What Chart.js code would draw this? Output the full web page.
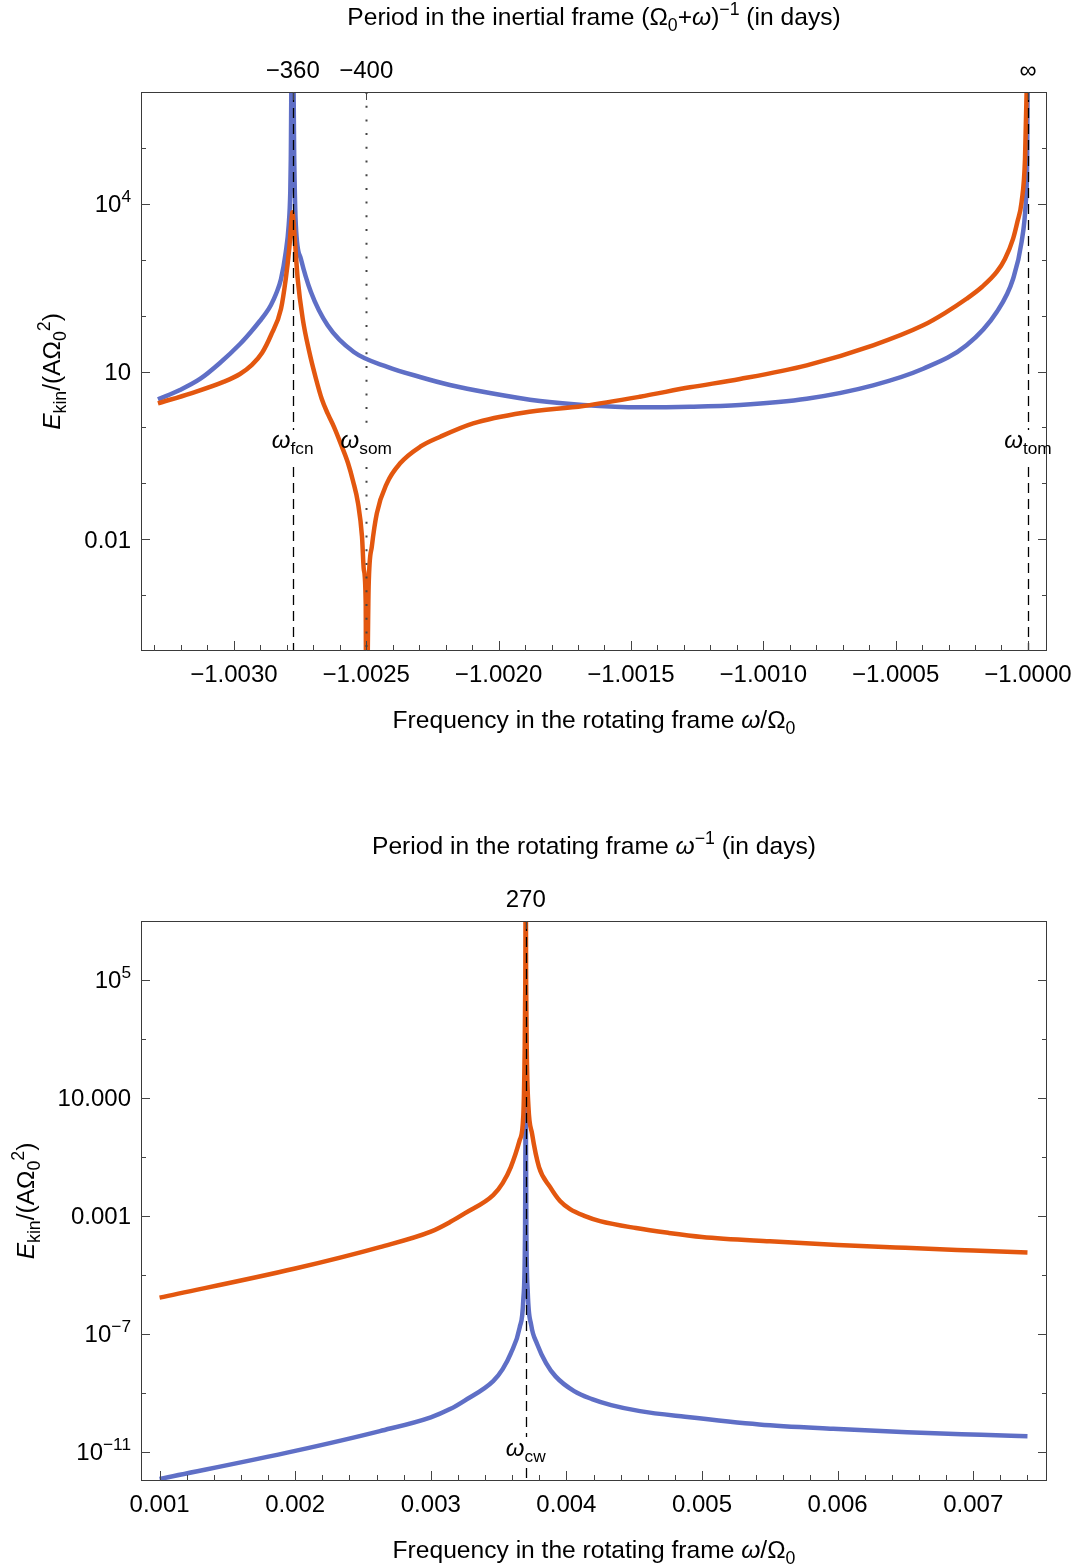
<!DOCTYPE html>
<html>
<head>
<meta charset="utf-8">
<script src="https://cdn.jsdelivr.net/npm/chart.js@4.4.1/dist/chart.umd.min.js"></script>
<style>
  html, body { margin: 0; padding: 0; background: #fff; }
  body { width: 1080px; height: 1567px; position: relative; overflow: hidden; }
  canvas { position: absolute; left: 0; }
  #topChart { top: 0; }
  #bottomChart { top: 783px; }
</style>
</head>
<body>
<canvas id="topChart" width="1080" height="783"></canvas>
<canvas id="bottomChart" width="1080" height="784"></canvas>
<script>
// ---- top panel: period in the inertial frame ----
const topXRange = [-1.003351, -0.999928];
const topYRange = [1e-4, 1e6];

const topBlueX = [-1.003287, -1.003204, -1.003128, -1.003053, -1.002977, -1.002936, -1.002902, -1.002879,
  -1.00286, -1.002841, -1.002822, -1.002804, -1.002793, -1.002787, -1.002785, -1.002781,
  -1.002777, -1.002772, -1.002766, -1.002747, -1.002709, -1.002646, -1.002547, -1.002418, -1.002297,
  -1.002184, -1.002033, -1.001844, -1.001681, -1.001466, -1.001277, -1.001088, -1.000836, -1.000585,
  -1.000396, -1.000232, -1.000118, -1.000056, -1.000024, -1.000008, -1.000003, -1.0000005];
const topBlueY = [3.18, 4.67, 7.35, 14.2, 31.0, 50.9, 80.0, 111,
  155, 243, 452, 1370, 4120, 16300, 64100, 1e7,
  1e7, 64100, 4120, 1040, 264, 67, 22.3, 12.0, 7.98,
  5.73, 4.12, 2.96, 2.52, 2.29, 2.34, 2.52, 3.26, 5.66,
  11.2, 29.4, 116, 457, 2070, 10800, 63000, 1e7];

const topOrangeX = [-1.003287, -1.003162, -1.003037, -1.002977, -1.002932, -1.002894, -1.00286, -1.002822,
  -1.002804, -1.002791, -1.002782, -1.002779, -1.002772, -1.002759, -1.00274, -1.002715, -1.00269,
  -1.002668, -1.002645, -1.002622, -1.002596, -1.002569, -1.00255, -1.002531, -1.002516, -1.002509,
  -1.002502, -1.0025, -1.002491, -1.002479, -1.00246, -1.002422, -1.002372, -1.002296, -1.00222,
  -1.002096, -1.001907, -1.00168, -1.001466, -1.001277, -1.001088, -1.000836, -1.000585, -1.000396,
  -1.000314, -1.000232, -1.000174, -1.000118, -1.000087, -1.000056, -1.00004, -1.000024, -1.000011,
  -1.000005, -1.000002];
const topOrangeY = [2.70, 4.07, 6.58, 9.02, 13.1, 21.4, 44.5, 133,
  457, 1570, 5420, 7080, 3130, 457, 87.9, 22.3, 7.43,
  3.22, 1.74, 1.02, 0.505, 0.231, 0.110, 0.0439, 0.0111, 0.00282,
  7.08e-4, 1e-6, 1.41e-3, 7.35e-3, 0.029, 0.1, 0.228, 0.452, 0.682,
  1.18, 1.83, 2.42, 3.54, 5.21, 7.35, 12.9, 29.4, 67,
  111, 200, 325, 603, 1030, 2380, 4720, 10800, 64100,
  1e6, 1e7];

const topXTicks = [-1.003, -1.0025, -1.002, -1.0015, -1.001, -1.0005, -1.0];
const topXLabels = ['−1.0030', '−1.0025', '−1.0020', '−1.0015', '−1.0010', '−1.0005', '−1.0000'];
const topYTicks = [1e5, 1e4, 1e3, 100, 10, 1, 0.1, 0.01, 0.001];
const topYLabels = [null, [['10', ''], ['4', 'p']], null, null, [['10', '']], null, null, [['0.01', '']], null];
const topMarkX = [-1.0027778, -1.0025, -1.0];
const topMarkTop = ['−360', '−400', '∞'];
const topMarkName = ['fcn', 'som', 'tom'];

// ---- bottom panel: period in the rotating frame ----
const botXRange = [0.000863, 0.007544];
const botYRange = [1e-12, 1e7];

const botBlueX = [0.001, 0.002, 0.002625, 0.003, 0.003142, 0.00325, 0.00346, 0.00353, 0.00359, 0.003656,
  0.003682, 0.003695, 0.0037, 0.003705, 0.003715, 0.00374, 0.003784, 0.00385, 0.00392, 0.004057,
  0.004189, 0.00433, 0.004543, 0.004875, 0.005421, 0.005967, 0.006513, 0.007058, 0.0074];
const botBlueY = [1.17e-12, 1.05e-11, 4.93e-11, 1.45e-10, 2.75e-10, 5.37e-10, 2.45e-9, 6.27e-9, 2.14e-8, 1.66e-7,
  1.35e-6, 2.57e-4, 10, 2.5e-4, 2.5e-6, 2.0e-7, 4.47e-8, 1e-8, 3.55e-9, 1.12e-9,
  6.0e-10, 3.76e-10, 2.35e-10, 1.51e-10, 8.3e-11, 5.9e-11, 4.5e-11, 3.7e-11, 3.3e-11];

const botOrangeX = [0.001, 0.002, 0.002625, 0.003, 0.003142, 0.00325, 0.00346, 0.00353, 0.00359, 0.003656,
  0.003682, 0.003692, 0.003697, 0.0037, 0.003703, 0.003708, 0.00372, 0.003746, 0.003798, 0.003879,
  0.003953, 0.004027, 0.004137, 0.004248, 0.004513, 0.00475, 0.005, 0.0055, 0.006, 0.0065, 0.007, 0.0074];
const botOrangeY = [1.66e-6, 1.62e-5, 8.63e-5, 2.88e-4, 6.1e-4, 1.2e-3, 5.0e-3, 0.0128, 0.0447, 0.372,
  2.34, 316, 1e5, 1e9, 1e5, 316, 5.0, 0.63, 0.0447, 9.55e-3,
  3.16e-3, 1.68e-3, 9.75e-4, 6.59e-4, 3.81e-4, 2.63e-4, 1.91e-4, 1.35e-4, 1.02e-4, 8.13e-5, 6.61e-5, 5.62e-5];

const botXTicks = [0.001, 0.002, 0.003, 0.004, 0.005, 0.006, 0.007];
const botXLabels = ['0.001', '0.002', '0.003', '0.004', '0.005', '0.006', '0.007'];
const botYTicks = [1e5, 1e3, 10, 0.1, 1e-3, 1e-5, 1e-7, 1e-9, 1e-11];
const botYLabels = [[['10', ''], ['5', 'p']], null, [['10.000', '']], null, [['0.001', '']], null,
  [['10', ''], ['−7', 'p']], null, [['10', ''], ['−11', 'p']]];
const botMarkX = [0.0037];
const botMarkTop = ['270'];
const botMarkName = ['cw'];

const BLUE = '#5f6fc6';
const ORANGE = '#e3570f';
const FONT = '"Liberation Sans", Arial, sans-serif';
const TICK_SIZE = 24;
const TITLE_SIZE = 24.6;

// text with italic / sub / superscript pieces: [text, kind] kind: '' | 'i' | 'b' (sub) | 'p' (sup)
function drawRich(ctx, parts, x, y, size, align) {
  let total = 0;
  const items = parts.map(([t, k]) => {
    const small = k.includes('b') || k.includes('p');
    const fs = small ? size * 0.72 : size;
    const font = (k.includes('i') ? 'italic ' : '') + fs + 'px ' + FONT;
    ctx.font = font;
    const w = ctx.measureText(t).width;
    const dy = k.includes('b') ? size * 0.24 : k.includes('p') ? -size * 0.42 : 0;
    total += w;
    return { t, font, w, dy };
  });
  let cx = align === 'center' ? x - total / 2 : align === 'right' ? x - total : x;
  ctx.textAlign = 'left';
  ctx.textBaseline = 'alphabetic';
  items.forEach(it => {
    ctx.font = it.font;
    ctx.fillText(it.t, cx, y + it.dy);
    cx += it.w;
  });
}

const deco = {
  id: 'deco',
  afterDatasetsDraw(chart, args, o) {
    const ctx = chart.ctx, a = chart.chartArea, xs = chart.scales.x;
    ctx.save();
    o.markX.forEach((v, i) => {
      const px = Math.round(xs.getPixelForValue(v)) + 0.5;
      const dotted = o.dotted[i];
      ctx.strokeStyle = dotted ? '#444' : '#000';
      ctx.lineWidth = dotted ? 2 : 1.3;
      ctx.setLineDash(dotted ? [2, 11.7] : [10, 6]);
      ctx.beginPath();
      ctx.moveTo(px, a.top);
      ctx.lineTo(px, a.top + o.gap[0]);
      ctx.moveTo(px, a.top + o.gap[1]);
      ctx.lineTo(px, a.bottom);
      ctx.stroke();
    });
    ctx.restore();
  },
  afterDraw(chart, args, o) {
    const ctx = chart.ctx, a = chart.chartArea, xs = chart.scales.x, ys = chart.scales.y;
    ctx.save();
    ctx.setLineDash([]);
    ctx.strokeStyle = '#3a3a3a';
    ctx.lineWidth = 1;
    ctx.strokeRect(a.left + 0.5, a.top + 0.5, a.right - a.left - 1, a.bottom - a.top - 1);

    // inward ticks
    ctx.strokeStyle = '#444';
    ctx.beginPath();
    o.xTicks.forEach(v => {
      const p = Math.round(xs.getPixelForValue(v)) + 0.5;
      ctx.moveTo(p, a.bottom); ctx.lineTo(p, a.bottom - 10);
    });
    for (let v = o.minor[0]; v <= o.minor[1] + o.minor[2] / 10; v += o.minor[2]) {
      const p = Math.round(xs.getPixelForValue(v)) + 0.5;
      ctx.moveTo(p, a.bottom); ctx.lineTo(p, a.bottom - 6);
    }
    o.yTicks.forEach((v, i) => {
      const p = Math.round(ys.getPixelForValue(v)) + 0.5;
      const len = o.yLabels[i] ? 9 : 5;
      ctx.moveTo(a.left, p); ctx.lineTo(a.left + len, p);
      ctx.moveTo(a.right, p); ctx.lineTo(a.right - len, p);
    });
    o.markX.forEach(v => {
      const p = Math.round(xs.getPixelForValue(v)) + 0.5;
      ctx.moveTo(p, a.top); ctx.lineTo(p, a.top + 8);
    });
    ctx.stroke();

    ctx.fillStyle = '#000';
    o.xLabels.forEach((t, i) => drawRich(ctx, [[t, '']], xs.getPixelForValue(o.xTicks[i]), a.bottom + 31, TICK_SIZE, 'center'));
    o.yTicks.forEach((v, i) => {
      if (o.yLabels[i]) drawRich(ctx, o.yLabels[i], a.left - 10, ys.getPixelForValue(v) + 8.5, TICK_SIZE, 'right');
    });
    o.markX.forEach((v, i) => {
      const p = xs.getPixelForValue(v);
      drawRich(ctx, [[o.markTop[i], '']], p, a.top - 14, TICK_SIZE, 'center');
      drawRich(ctx, [['ω', 'i'], [o.markName[i], 'b']], p, a.top + o.labelY, TICK_SIZE, 'center');
    });
    const cx = (a.left + a.right) / 2;
    drawRich(ctx, o.title, cx, a.top - 67, TITLE_SIZE, 'center');
    drawRich(ctx, o.xTitle, cx, a.bottom + 77, TITLE_SIZE, 'center');
    ctx.translate(o.yTitleX, (a.top + a.bottom) / 2);
    ctx.rotate(-Math.PI / 2);
    drawRich(ctx, [['E', 'i'], ['kin', 'b'], ['/(AΩ', ''], ['0', 'b'], ['2', 'p'], [')', '']], 0, 0, TITLE_SIZE, 'center');
    ctx.restore();
  }
};

function pts(xs, ys) {
  return xs.map((x, i) => ({ x: x, y: ys[i] }));
}

function makeChart(id, blue, orange, xr, yr, padding, decoOpts) {
  return new Chart(document.getElementById(id), {
    type: 'line',
    data: {
      datasets: [
        { data: pts(orange[0], orange[1]), borderColor: ORANGE, order: 0, clip: 0 },
        { data: pts(blue[0], blue[1]), borderColor: BLUE, order: 1, clip: 0 },
      ],
    },
    options: {
      responsive: false,
      animation: false,
      devicePixelRatio: 1,
      layout: { padding: padding },
      elements: {
        point: { radius: 0 },
        line: { borderWidth: 4.5, cubicInterpolationMode: 'monotone', capBezierPoints: false, fill: false },
      },
      scales: {
        x: { type: 'linear', min: xr[0], max: xr[1], display: false },
        y: { type: 'logarithmic', min: yr[0], max: yr[1], display: false },
      },
      plugins: {
        legend: { display: false },
        tooltip: { enabled: false },
        deco: decoOpts,
      },
    },
    plugins: [deco],
  });
}

makeChart('topChart', [topBlueX, topBlueY], [topOrangeX, topOrangeY], topXRange, topYRange,
  { left: 141, right: 33, top: 92, bottom: 132 },
  {
    xTicks: topXTicks, xLabels: topXLabels, minor: [-1.0033, -1.0, 0.0001],
    yTicks: topYTicks, yLabels: topYLabels,
    markX: topMarkX, markTop: topMarkTop, markName: topMarkName, dotted: [false, true, false],
    gap: [338, 375], labelY: 356, yTitleX: 60,
    title: [['Period in the inertial frame (Ω', ''], ['0', 'b'], ['+', ''], ['ω', 'i'], [')', ''], ['−1', 'p'], [' (in days)', '']],
    xTitle: [['Frequency in the rotating frame ', ''], ['ω', 'i'], ['/Ω', ''], ['0', 'b']],
  });

makeChart('bottomChart', [botBlueX, botBlueY], [botOrangeX, botOrangeY], botXRange, botYRange,
  { left: 141, right: 33, top: 138, bottom: 86 },
  {
    xTicks: botXTicks, xLabels: botXLabels, minor: [0.001, 0.0074, 0.0002],
    yTicks: botYTicks, yLabels: botYLabels,
    markX: botMarkX, markTop: botMarkTop, markName: botMarkName, dotted: [false],
    gap: [516, 547], labelY: 535, yTitleX: 34,
    title: [['Period in the rotating frame ', ''], ['ω', 'i'], ['−1', 'p'], [' (in days)', '']],
    xTitle: [['Frequency in the rotating frame ', ''], ['ω', 'i'], ['/Ω', ''], ['0', 'b']],
  });
</script>
</body>
</html>
